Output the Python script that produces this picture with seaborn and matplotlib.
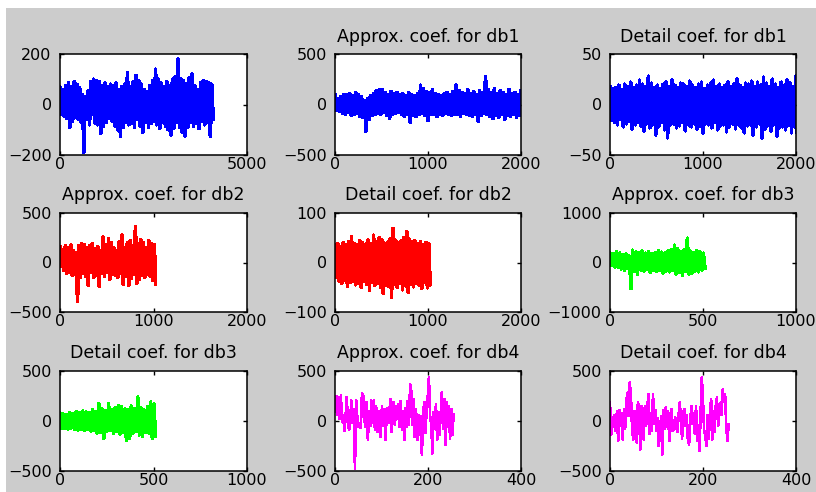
import numpy as np
import pandas as pd
import matplotlib.pyplot as plt
import seaborn as sns
from matplotlib.patches import Rectangle

# panel setup (MATLAB style 3x3 subplot of wavelet coefficients)
titles = ["", "Approx. coef. for db1", "Detail coef. for db1",
          "Approx. coef. for db2", "Detail coef. for db2", "Approx. coef. for db3",
          "Detail coef. for db3", "Approx. coef. for db4", "Detail coef. for db4"]
colors = ["#0000ff", "#0000ff", "#0000ff", "#ff0000", "#ff0000",
          "#00ff00", "#00ff00", "#ff00ff", "#ff00ff"]
lengths = [4096, 2048, 2048, 1024, 1024, 512, 512, 256, 256]
xticks = [[0, 5000], [0, 1000, 2000], [0, 1000, 2000], [0, 1000, 2000], [0, 1000, 2000],
          [0, 500, 1000], [0, 500, 1000], [0, 200, 400], [0, 200, 400]]
yticks = [[-200, 0, 200], [-500, 0, 500], [-50, 0, 50], [-500, 0, 500], [-100, 0, 100],
          [-1000, 0, 1000], [-500, 0, 500], [-500, 0, 500], [-500, 0, 500]]

# signal (upper / lower swing of the dense noise band)
sig_hi = [70, 60, 75, 85, 70, 90, 80, 65, 40, 30, 55, 90, 100, 95, 90, 75, 85, 70, 80, 75,
          85, 60, 70, 80, 125, 70, 90, 115, 95, 80, 60, 50, 75, 95, 140, 100, 85, 70, 90, 75,
          100, 110, 180, 100, 95, 80, 105, 120, 75, 60, 85, 95, 90, 85, 80]
sig_lo = [-40, -45, -55, -90, -65, -50, -60, -70, -190, -60, -80, -40, -75, -80, -115, -85, -70, -55, -65, -85,
          -100, -125, -90, -70, -80, -75, -90, -60, -85, -110, -70, -90, -75, -65, -80, -95, -70, -85, -100, -120,
          -95, -70, -90, -110, -125, -90, -70, -85, -75, -95, -65, -80, -70, -125, -60]

# approx db1
a1_hi = [100, 60, 80, 100, 95, 110, 90, 120, 100, 80, 40, 60, 90, 110, 140, 150, 145, 120, 100, 130,
         110, 120, 95, 105, 90, 120, 100, 90, 110, 190, 160, 130, 120, 150, 110, 100, 90, 110, 120, 100,
         130, 190, 140, 120, 110, 145, 110, 130, 100, 140, 120, 275, 150, 120, 160, 110, 140, 120, 100, 150,
         110, 120, 100, 140, 110]
a1_lo = [-60, -70, -90, -100, -80, -110, -100, -85, -120, -130, -265, -150, -110, -100, -90, -95, -80, -110, -140, -100,
         -90, -80, -100, -120, -100, -180, -110, -120, -100, -90, -110, -160, -100, -95, -120, -100, -110, -90, -100, -110,
         -95, -100, -120, -90, -100, -110, -120, -100, -165, -110, -90, -100, -120, -140, -110, -130, -100, -150, -110, -120,
         -100, -130, -110, -120, -165]

# detail db1
d1_hi = [18, 16, 17, 19, 15, 20, 18, 22, 17, 19, 24, 20, 18, 28, 21, 17, 19, 16, 20, 22,
         18, 24, 19, 17, 21, 20, 18, 23, 19, 17, 20, 22, 16, 19, 21, 24, 18, 20, 17, 19,
         22, 18, 20, 25, 19, 17, 21, 20, 23, 18, 22, 19, 27, 21, 18, 25, 20, 17, 22, 19,
         24, 21, 18, 28, 22]
d1_lo = [-16, -18, -20, -15, -22, -19, -17, -24, -20, -18, -21, -26, -19, -23, -20, -30, -22, -18, -25, -33,
         -20, -19, -23, -21, -18, -26, -20, -22, -19, -24, -21, -28, -19, -20, -23, -18, -25, -21, -20, -27,
         -22, -19, -24, -20, -23, -28, -21, -20, -30, -22, -19, -33, -24, -21, -26, -20, -31, -23, -22, -25,
         -20, -28, -22, -33, -24]

# approx db2
a2_hi = [160, 130, 170, 150, 175, 120, 100, 170, 190, 180, 150, 170, 190, 140, 160, 120, 255, 180,
         240, 200, 150, 120, 210, 275, 150, 200, 220, 170, 365, 190, 230, 200, 150, 220, 190, 180]
a2_lo = [-40, -80, -110, -100, -130, -120, -390, -150, -110, -140, -230, -100, -150, -130, -240, -110, -140, -100,
         -170, -120, -130, -150, -110, -220, -140, -230, -160, -120, -210, -170, -130, -150, -120, -140, -180, -220]

# detail db2
d2_hi = [35, 38, 32, 40, 36, 42, 52, 38, 35, 44, 40, 37, 45, 38, 55, 42, 50, 46, 39, 41,
         48, 69, 45, 40, 43, 50, 62, 47, 41, 44, 38, 42, 36, 40, 37]
d2_lo = [-30, -38, -42, -35, -48, -40, -37, -45, -41, -50, -38, -44, -56, -40, -46, -42, -50, -62, -45, -48,
         -70, -43, -50, -41, -55, -47, -60, -44, -49, -42, -46, -52, -40, -51, -45]

# approx db3
a3_hi = [200, 180, 220, 190, 150, 170, 130, 250, 210, 200, 230, 190, 220, 180, 200, 240, 210, 190, 230, 260,
         350, 280, 220, 250, 490, 230, 200, 240, 210, 190]
a3_lo = [-60, -90, -100, -130, -160, -120, -530, -180, -245, -150, -170, -140, -200, -160, -180, -150, -210, -170,
         -190, -160, -230, -200, -257, -180, -230, -210, -170, -190, -150, -120]

# detail db3
d3_hi = [80, 70, 60, 85, 75, 95, 80, 100, 90, 85, 110, 95, 173, 120, 100, 173, 110, 130, 157, 140,
         120, 110, 150, 125, 240, 130, 110, 140, 190, 170]
d3_lo = [-70, -75, -80, -70, -85, -90, -78, -95, -85, -100, -90, -120, -110, -177, -100, -95, -120, -105, -130, -110,
         -193, -177, -120, -105, -140, -150, -110, -125, -177, -150]

# approx db4
a4 = [90, 250, 60, 240, 20, 255, -10, 60, -100, 40, 240, -30, -90, 30, 205, -20, 120, -473, 205, 40,
      -60, -20, -70, 280, 250, 20, -60, 190, -190, 100, -50, 205, -20, 205, -90, 150, -110, 100, -40, -160,
      150, -50, 120, -190, 50, 130, -20, 220, -110, 60, 190, -40, 150, 20, 170, -60, 200, -90, 100, -190,
      130, -60, 200, -40, 370, 290, -40, 220, -160, 120, -190, 60, -140, 50, -340, 60, 190, -120, 100, 240,
      437, 50, -40, -324, 90, -80, 172, -190, 90, -140, 60, 288, -80, 220, -240, 190, -60, 150, -180, 120,
      -140, 70]

# detail db4
d4 = [183, -133, 40, -60, 60, -100, 100, -200, 110, -50, 80, -183, 120, -80, 183, 283, 50, 383, 250, -70,
      -183, 100, -120, -217, 183, 150, -283, 150, -80, -183, 150, -50, 100, 267, -130, 80, -100, 267, -30, 110,
      -100, 30, -250, -110, 50, -333, 110, -80, 133, -60, 100, -200, 20, 117, -100, -80, 40, -50, -110, 60,
      183, 30, -180, 80, 120, -50, 60, -183, -233, -20, 150, -30, 80, -130, 150, -200, -40, -300, 100, 433,
      200, -100, -150, -250, 60, -180, 100, 217, -183, 100, -110, 150, 233, -50, 100, 183, 60, 317, 200, 267,
      -50, -200, -33]


def band(hi, lo):
    return np.column_stack([hi, lo]).ravel()


series = [band(sig_hi, sig_lo), band(a1_hi, a1_lo), band(d1_hi, d1_lo),
          band(a2_hi, a2_lo), band(d2_hi, d2_lo), band(a3_hi, a3_lo),
          band(d3_hi, d3_lo), np.array(a4), np.array(d4)]
line_w = [1.9, 1.9, 1.9, 1.9, 1.9, 1.8, 1.8, 1.2, 1.2]

sns.set_theme(style="ticks")
plt.rcParams["font.family"] = ["DejaVu Sans"]

W, H = 816, 492
fig = plt.figure(figsize=(W / 100, H / 100), dpi=100, facecolor="white")
fig.patches.append(Rectangle((6 / W, 0), 1 - 6 / W, 1 - 8 / H, transform=fig.transFigure,
                             facecolor="#cccccc", edgecolor="none", zorder=-10))

lefts = [60, 335, 610]
widths = [187, 186, 186]
tops = [54, 213, 371]
bottoms = [155, 312, 471]

for i in range(9):
    r, c = divmod(i, 3)
    ax = fig.add_axes([lefts[c] / W, 1 - bottoms[r] / H,
                       widths[c] / W, (bottoms[r] - tops[r]) / H])
    vals = series[i]
    df = pd.DataFrame({"n": np.linspace(0, lengths[i] - 1, len(vals)), "v": vals})
    sns.lineplot(data=df, x="n", y="v", ax=ax, color=colors[i], linewidth=line_w[i],
                 sort=False, estimator=None, antialiased=False)
    ax.set_xlim(xticks[i][0], xticks[i][-1])
    ax.set_ylim(yticks[i][0], yticks[i][-1])
    ax.set_xticks(xticks[i])
    ax.set_yticks(yticks[i])
    ax.set_xlabel("")
    ax.set_ylabel("")
    ax.set_facecolor("white")
    for s in ax.spines.values():
        s.set_color("black")
        s.set_linewidth(1.1)
    ax.tick_params(direction="in", top=True, right=True, length=3, width=1,
                   labelsize=11.5, colors="black", pad=1.5)
    ax.tick_params(axis="y", pad=6)
    if titles[i]:
        ax.set_title(titles[i], fontsize=12.5, pad=9, color="black")

fig.savefig("out.png", dpi=100, facecolor=fig.get_facecolor())
plt.close(fig)
